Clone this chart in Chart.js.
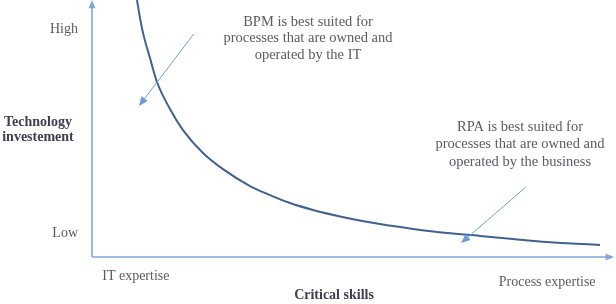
<!DOCTYPE html>
<html>
<head>
<meta charset="utf-8">
<script src="https://cdn.jsdelivr.net/npm/chart.js@4"></script>
<style>
html,body{margin:0;padding:0;background:#fff;}
#wrap{width:616px;height:304px;position:relative;}
</style>
</head>
<body>
<div id="wrap"><canvas id="c" width="616" height="304"></canvas></div>
<script>
// Curve: critical skills (x) vs technology investment (y), 0..100 scale
const curveX = [8.62, 9.20, 9.77, 11.11, 12.45, 14.94, 17.43, 21.26, 25.10, 30.27, 34.10, 37.93, 42.34, 48.85, 55.17, 61.49, 68.01, 74.33, 80.65, 87.16, 97.32];
const curveY = [100, 93.0, 87.2, 77.4, 68.1, 57.6, 49.4, 40.5, 34.2, 27.6, 24.1, 21.0, 18.3, 15.2, 12.8, 10.9, 9.3, 8.2, 7.0, 5.8, 4.7];

// Axis tick labels
const yTickLabels = ["High", "Low"];
const yTickValues = [88.7, 9.3];
const xTickLabels = ["IT expertise", "Process expertise"];
const xTickValues = [8.4, 87.2];

const xTitle = "Critical skills";
const yTitle = ["Technology", "investement"];

// Annotations: text lines, arrow from -> to (in data units)
const bpmText = ["BPM is best suited for", "processes that are owned and", "operated by the IT"];
const bpmArrow = [[19.5, 86.8], [9.0, 58.8]];
const rpaText = ["RPA is best suited for", "processes that are owned and", "operated by the business"];
const rpaArrow = [[83.1, 27.2], [70.7, 5.4]];

const points = curveX.map((x, i) => ({x, y: curveY[i]}));

function arrow(ctx, x1, y1, x2, y2, color, lw, head) {
  const a = Math.atan2(y2 - y1, x2 - x1);
  ctx.save();
  ctx.strokeStyle = color; ctx.fillStyle = color; ctx.lineWidth = lw;
  ctx.beginPath();
  ctx.moveTo(x1, y1);
  ctx.lineTo(x2 - Math.cos(a) * head * 0.8, y2 - Math.sin(a) * head * 0.8);
  ctx.stroke();
  ctx.beginPath();
  ctx.moveTo(x2, y2);
  ctx.lineTo(x2 - head * Math.cos(a - 0.4), y2 - head * Math.sin(a - 0.4));
  ctx.lineTo(x2 - head * Math.cos(a + 0.4), y2 - head * Math.sin(a + 0.4));
  ctx.closePath();
  ctx.fill();
  ctx.restore();
}

const decor = {
  id: 'decor',
  beforeDatasetsDraw(chart) {
    const ctx = chart.ctx, ca = chart.chartArea;
    arrow(ctx, ca.left, ca.bottom, ca.left, ca.top, '#7ea9d8', 1.6, 9);
    arrow(ctx, ca.left, ca.bottom, ca.right, ca.bottom, '#7ea9d8', 1.6, 9);
  },
  afterDatasetsDraw(chart) {
    const ctx = chart.ctx, ca = chart.chartArea;
    const xs = chart.scales.x, ys = chart.scales.y;
    arrow(ctx, xs.getPixelForValue(bpmArrow[0][0]), ys.getPixelForValue(bpmArrow[0][1]),
          xs.getPixelForValue(bpmArrow[1][0]), ys.getPixelForValue(bpmArrow[1][1]), '#6a9fd6', 1, 10);
    arrow(ctx, xs.getPixelForValue(rpaArrow[0][0]), ys.getPixelForValue(rpaArrow[0][1]),
          xs.getPixelForValue(rpaArrow[1][0]), ys.getPixelForValue(rpaArrow[1][1]), '#6a9fd6', 1, 10);

    ctx.save();
    ctx.textBaseline = 'middle';
    ctx.fillStyle = '#5a5a62';
    ctx.font = '14px "Liberation Serif", "Times New Roman", serif';
    ctx.textAlign = 'right';
    yTickLabels.forEach((t, i) => ctx.fillText(t, ca.left - 14, ys.getPixelForValue(yTickValues[i])));
    ctx.textAlign = 'center';
    xTickLabels.forEach((t, i) => ctx.fillText(t, xs.getPixelForValue(xTickValues[i]), ca.bottom + (i === 0 ? 19 : 25)));
    ctx.font = '14.5px "Liberation Serif", "Times New Roman", serif';
    bpmText.forEach((t, i) => ctx.fillText(t, 308, 22 + i * 16.5));
    rpaText.forEach((t, i) => ctx.fillText(t, 520, 127 + i * 17.5));
    ctx.fillStyle = '#3c4050';
    ctx.font = 'bold 14px "Liberation Serif", "Times New Roman", serif';
    ctx.fillText(xTitle, 334, 295);
    yTitle.forEach((t, i) => ctx.fillText(t, 38, 122 + i * 15.5));
    ctx.restore();
  }
};

new Chart(document.getElementById('c'), {
  type: 'scatter',
  data: {
    datasets: [{
      data: points,
      showLine: true,
      borderColor: '#3f628f',
      borderWidth: 2,
      pointRadius: 0,
      cubicInterpolationMode: 'monotone',
      fill: false
    }]
  },
  options: {
    responsive: false,
    animation: false,
    layout: { padding: { left: 92, right: 2, top: 0, bottom: 47 } },
    plugins: { legend: { display: false }, tooltip: { enabled: false } },
    scales: {
      x: { type: 'linear', min: 0, max: 100, display: false },
      y: { type: 'linear', min: 0, max: 100, display: false }
    }
  },
  plugins: [decor]
});
</script>
</body>
</html>
